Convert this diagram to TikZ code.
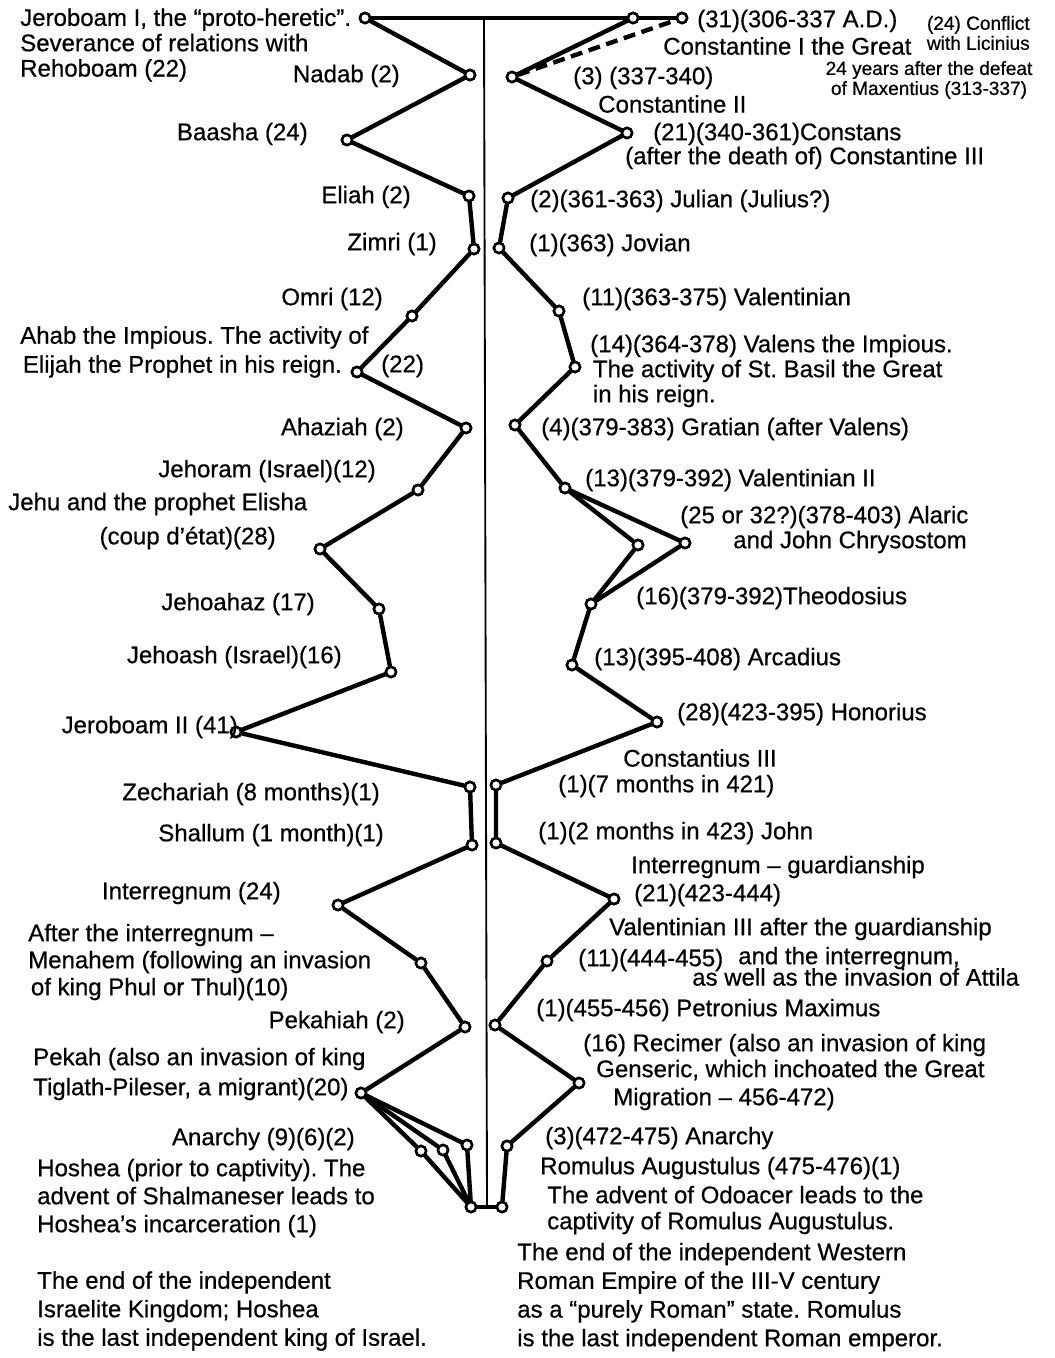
\documentclass[tikz,border=0pt]{standalone}
\usepackage{fontspec}
\setmainfont{Liberation Sans}[FakeBold=0.6]
\frenchspacing
\begin{document}
\begin{tikzpicture}[x=0.75pt,y=-0.75pt,
  kn/.style={circle,draw,fill=white,line width=1.9pt,inner sep=0pt,minimum size=7.6pt},
  con/.style={line width=3.3pt,line cap=round},
  lab/.style={inner sep=0pt,font=\fontsize{18}{21}\selectfont},
  lsp/.style={font=\fontsize{18}{#1}\selectfont},
  sm/.style={inner sep=0pt,font=\fontsize{14.3}{15}\selectfont}]
\useasboundingbox (0,0) rectangle (1054,1358);
\fill[white] (0,0) rectangle (1054,1358);

% ---------- Israel chain nodes
\node[kn] (j1) at (365,18) {};
\node[kn] (nadab) at (470,75) {};
\node[kn] (baasha) at (347,140) {};
\node[kn] (eliah) at (469,196) {};
\node[kn] (zimri) at (474,249) {};
\node[kn] (omri) at (412,316) {};
\node[kn] (ahab) at (357,372) {};
\node[kn] (ahaziah) at (466,428) {};
\node[kn] (jehoram) at (418,490) {};
\node[kn] (jehu) at (320,549) {};
\node[kn] (jehoahaz) at (379,609) {};
\node[kn] (jehoash) at (391,672) {};
\node[kn] (jer2) at (236,732) {};
\node[kn] (zech) at (470,787) {};
\node[kn] (shallum) at (472,845) {};
\node[kn] (interr) at (338,905) {};
\node[kn] (menahem) at (421,963) {};
\node[kn] (pekahiah) at (465,1027) {};
\node[kn] (pekah) at (361,1093) {};
\node[kn] (an1) at (421,1151) {};
\node[kn] (an2) at (443,1150) {};
\node[kn] (an3) at (467,1145) {};
\node[kn] (hoshea) at (471,1207) {};

% ---------- Rome chain nodes
\node[kn] (c1a) at (633,18) {};
\node[kn] (c1b) at (682,18) {};
\node[kn] (const2) at (512,77) {};
\node[kn] (constans) at (627,133) {};
\node[kn] (julian) at (508,198) {};
\node[kn] (jovian) at (499,248) {};
\node[kn] (valent) at (559,311) {};
\node[kn] (valens) at (575,367) {};
\node[kn] (gratian) at (515,425) {};
\node[kn] (val2) at (565,488) {};
\node[kn] (al1) at (638,545) {};
\node[kn] (al2) at (685,543) {};
\node[kn] (theo) at (591,604) {};
\node[kn] (arcad) at (572,665) {};
\node[kn] (honor) at (657,722) {};
\node[kn] (const3) at (496,785) {};
\node[kn] (john) at (496,843) {};
\node[kn] (interg) at (614,899) {};
\node[kn] (val3) at (547,961) {};
\node[kn] (petron) at (495,1025) {};
\node[kn] (recimer) at (579,1083) {};
\node[kn] (anr) at (507,1146) {};
\node[kn] (romulus) at (502,1207) {};

\coordinate (vtop) at (484,18);
\coordinate (vbot) at (487,1207);

% ---------- connectors
\draw[line width=1.4pt] (vtop) -- (vbot);
\draw[con] (j1) -- (c1a) -- (c1b);
\draw[con] (hoshea) -- (romulus);
\draw[con] (j1) -- (nadab) -- (baasha) -- (eliah) -- (zimri) -- (omri) -- (ahab)
  -- (ahaziah) -- (jehoram) -- (jehu) -- (jehoahaz) -- (jehoash) -- (jer2) -- (zech)
  -- (shallum) -- (interr) -- (menahem) -- (pekahiah) -- (pekah);
\draw[con] (pekah) -- (an1) -- (hoshea);
\draw[con] (pekah) -- (an2) -- (hoshea);
\draw[con] (pekah) -- (an3) -- (hoshea);
\draw[con] (c1a) -- (const2);
\draw[con,dashed,dash pattern=on 9pt off 5pt,line cap=butt] (const2) -- (c1b);
\draw[con] (const2) -- (constans) -- (julian) -- (jovian) -- (valent) -- (valens)
  -- (gratian) -- (val2);
\draw[con] (val2) -- (al1) -- (theo);
\draw[con] (val2) -- (al2) -- (theo);
\draw[con] (theo) -- (arcad) -- (honor) -- (const3) -- (john) -- (interg) -- (val3)
  -- (petron) -- (recimer) -- (anr) -- (romulus);

% redraw circles on top
\foreach \n in {j1,nadab,baasha,eliah,zimri,omri,ahab,ahaziah,jehoram,jehu,jehoahaz,
  jehoash,jer2,zech,shallum,interr,menahem,pekahiah,pekah,an1,an2,an3,hoshea,
  c1a,c1b,const2,constans,julian,jovian,valent,valens,gratian,val2,al1,al2,theo,
  arcad,honor,const3,john,interg,val3,petron,recimer,anr,romulus}
  {\draw[line width=1.9pt,fill=white] (\n) circle (3.8pt);}

% ---------- Israel labels
\node[lab,lsp=19,align=left,anchor=west] (tj1) at (20,45)
  {Jeroboam I, the “proto-heretic”.\\Severance of relations with\\Rehoboam (22)};
\node[lab,anchor=east] (tnadab) at (400,76) {Nadab (2)};
\node[lab,anchor=east] (tbaasha) at (308,134) {Baasha (24)};
\node[lab,anchor=east] (teliah) at (411,197) {Eliah (2)};
\node[lab,anchor=east] (tzimri) at (437,244) {Zimri (1)};
\node[lab,anchor=east] (tomri) at (383,299) {Omri (12)};
\node[lab,lsp=21.75,align=left,anchor=west] (tahab) at (20,352)
  {Ahab the Impious. The activity of\\\hspace*{2pt}Elijah the Prophet in his reign.};
\node[lab,anchor=west] (tahab2) at (381,366) {(22)};
\node[lab,anchor=east] (tahaziah) at (404,429) {Ahaziah (2)};
\node[lab,anchor=east] (tjehoram) at (376,471) {Jehoram (Israel)(12)};
\node[lab,anchor=west] (tjehu) at (8,504) {Jehu and the prophet Elisha};
\node[lab,anchor=east] (tjehu2) at (276,538) {(coup d’état)(28)};
\node[lab,anchor=east] (tjehoahaz) at (315,604) {Jehoahaz (17)};
\node[lab,anchor=east] (tjehoash) at (342,657) {Jehoash (Israel)(16)};
\node[lab,anchor=east] (tjer2) at (238,727) {Jeroboam II (41)};
\node[lab,anchor=east] (tzech) at (380,794) {Zechariah (8 months)(1)};
\node[lab,anchor=east] (tshallum) at (384,835) {Shallum (1 month)(1)};
\node[lab,anchor=east] (tinterr) at (281,893) {Interregnum (24)};
\node[lab,lsp=20.25,align=left,anchor=west] (tmenahem) at (28,962)
  {After the interregnum –\\Menahem (following an invasion\\\hspace*{2pt}of king Phul or Thul)(10)};
\node[lab,anchor=east] (tpekahiah) at (405,1022) {Pekahiah (2)};
\node[lab,lsp=22.5,align=left,anchor=west] (tpekah) at (33,1074)
  {Pekah (also an invasion of king\\Tiglath-Pileser, a migrant)(20)};
\node[lab,anchor=east] (tanarchy) at (355,1139) {Anarchy (9)(6)(2)};
\node[lab,lsp=21,align=left,anchor=west] (thoshea) at (37,1198)
  {Hoshea (prior to captivity). The\\advent of Shalmaneser leads to\\Hoshea’s incarceration (1)};
\node[lab,lsp=21.4,align=left,anchor=west] (tendl) at (37,1311)
  {The end of the independent\\Israelite Kingdom; Hoshea\\is the last independent king of Israel.};

% ---------- Rome labels
\node[lab,anchor=west] (tc1) at (697,21) {(31)(306-337 A.D.)};
\node[lab,anchor=west] (tc1b) at (663,46) {Constantine I the Great};
\node[sm,align=right,anchor=east] (tlic) at (1030,33) {(24) Conflict\\with Licinius};
\node[sm,align=center,anchor=center] (tmax) at (929,80)
  {24 years after the defeat\\of Maxentius (313-337)};
\node[lab,anchor=west] (tconst2) at (573,78) {(3) (337-340)};
\node[lab,anchor=west] (tconst2b) at (598,104) {Constantine II};
\node[lab,anchor=west] (tconstans) at (653,134) {(21)(340-361)Constans};
\node[lab,anchor=west] (tconstansb) at (625,158) {(after the death of) Constantine III};
\node[lab,anchor=west] (tjulian) at (530,201) {(2)(361-363) Julian (Julius?)};
\node[lab,anchor=west] (tjovian) at (529,245) {(1)(363) Jovian};
\node[lab,anchor=west] (tvalent) at (582,299) {(11)(363-375) Valentinian};
\node[lab,lsp=18.75,align=left,anchor=west] (tvalens) at (590,371)
  {(14)(364-378) Valens the Impious.\\\hspace*{2pt}The activity of St. Basil the Great\\\hspace*{2pt}in his reign.};
\node[lab,anchor=west] (tgratian) at (541,429) {(4)(379-383) Gratian (after Valens)};
\node[lab,anchor=west] (tval2) at (585,480) {(13)(379-392) Valentinian II};
\node[lab,anchor=west] (talaric) at (680,517) {(25 or 32?)(378-403) Alaric};
\node[lab,anchor=west] (talaric2) at (733,542) {and John Chrysostom};
\node[lab,anchor=west] (ttheo) at (636,598) {(16)(379-392)Theodosius};
\node[lab,anchor=west] (tarcad) at (594,659) {(13)(395-408) Arcadius};
\node[lab,anchor=west] (thonor) at (677,714) {(28)(423-395) Honorius};
\node[lab,anchor=west] (tconst3) at (623,758) {Constantius III};
\node[lab,anchor=west] (tconst3b) at (558,786) {(1)(7 months in 421)};
\node[lab,anchor=west] (tjohn) at (538,833) {(1)(2 months in 423) John};
\node[lab,anchor=west] (tinterg) at (631,867) {Interregnum – guardianship};
\node[lab,anchor=west] (tinterg2) at (634,895) {(21)(423-444)};
\node[lab,anchor=west] (tval3) at (609,929) {Valentinian III after the guardianship};
\node[lab,anchor=west] (tval3b) at (578,960) {(11)(444-455)};
\node[lab,anchor=west] (tval3c) at (738,958) {and the interregnum,};
\node[lab,anchor=west] (tval3d) at (692,977) {as well as the invasion of Attila};
\node[lab,anchor=west] (tpetron) at (536,1010) {(1)(455-456) Petronius Maximus};
\node[lab,anchor=west] (trecimer) at (583,1045) {(16) Recimer (also an invasion of king};
\node[lab,anchor=west] (trecimer2) at (596,1070) {Genseric, which inchoated the Great};
\node[lab,anchor=west] (trecimer3) at (613,1099) {Migration – 456-472)};
\node[lab,anchor=west] (tanr) at (545,1138) {(3)(472-475) Anarchy};
\node[lab,anchor=west] (tromulus) at (540,1168) {Romulus Augustulus (475-476)(1)};
\node[lab,lsp=19.5,align=left,anchor=west] (todoacer) at (547,1210)
  {The advent of Odoacer leads to the\\captivity of Romulus Augustulus.};
\node[lab,lsp=21.5,align=left,anchor=west] (tendr) at (517,1297)
  {The end of the independent Western\\Roman Empire of the III-V century\\as a “purely Roman” state. Romulus\\is the last independent Roman emperor.};
\end{tikzpicture}
\end{document}
